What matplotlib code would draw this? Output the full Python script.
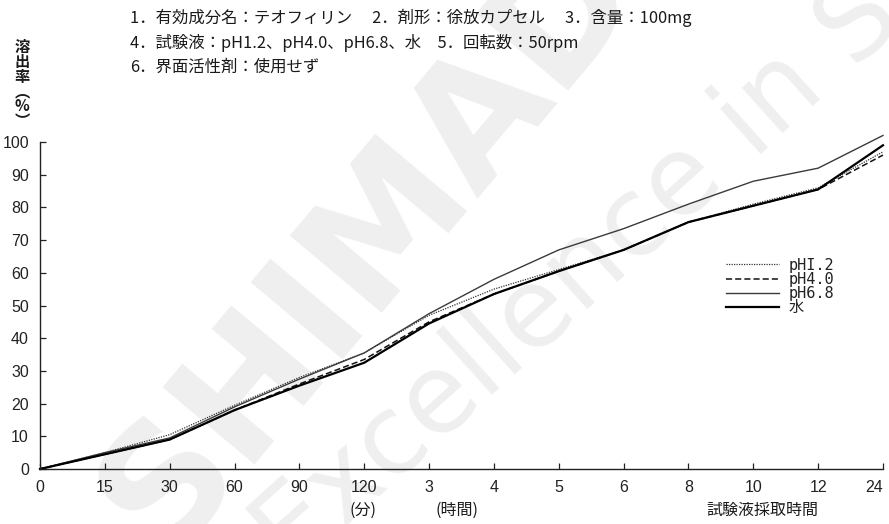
import numpy as np
import matplotlib
matplotlib.use("Agg")
import matplotlib.pyplot as plt
from matplotlib.lines import Line2D

# Sampling times (equally spaced categories: minutes, then hours)
time_labels = ["0", "15", "30", "60", "90", "120", "3", "4", "5", "6", "8", "10", "12", "24"]

# Dissolution rate (%) per test medium
ph12 = [0, 5.0, 10.5, 19.5, 28.0, 35.5, 47.0, 55.0, 61.0, 67.0, 75.5, 81.0, 86.0, 97.0]
ph40 = [0, 4.5, 9.0, 18.0, 26.0, 33.5, 45.0, 53.5, 60.5, 67.0, 75.5, 80.5, 85.5, 96.0]
ph68 = [0, 5.0, 9.5, 19.0, 27.5, 35.5, 47.5, 58.0, 67.0, 73.5, 81.0, 88.0, 92.0, 102.0]
water = [0, 4.5, 9.0, 18.0, 25.5, 32.5, 44.5, 53.5, 60.5, 67.0, 75.5, 80.5, 85.5, 99.0]

series_labels = ["pHI.2", "pH4.0", "pH6.8", "水"]
y_ticks = [0, 10, 20, 30, 40, 50, 60, 70, 80, 90, 100]

CJK = ["Noto Sans CJK JP", "DejaVu Sans"]
plt.rcParams["font.family"] = CJK

W, H = 889, 524
fig = plt.figure(figsize=(W / 100, H / 100), dpi=100)
fig.patch.set_facecolor("white")

# Faint background watermark, kept beneath everything else
fig.text(70 / W, 1 - 545 / H, "SHIMADZU", fontsize=118, fontweight="bold",
         color="#efefef", rotation=50, ha="left", va="baseline",
         family=["DejaVu Sans"], zorder=-5)
fig.text(235 / W, 1 - 570 / H, "Excellence in Science", fontsize=79,
         color="#efefef", rotation=42, ha="left", va="baseline",
         family=["DejaVu Sans"], zorder=-5)

x0, x1 = 40, 883
y0, y1 = 469, 142
ax = fig.add_axes([x0 / W, 1 - y0 / H, (x1 - x0) / W, (y0 - y1) / H])
ax.patch.set_alpha(0)
ax.set_zorder(2)

x = np.arange(len(time_labels))
ax.plot(x, ph12, color="#333333", lw=0.9, linestyle=(0, (1, 1)), clip_on=False)
ax.plot(x, ph40, color="#111111", lw=1.1, linestyle=(0, (4, 2)), clip_on=False)
ax.plot(x, ph68, color="#3a3a3a", lw=1.0, linestyle="-", clip_on=False)
ax.plot(x, water, color="#000000", lw=1.6, linestyle="-", clip_on=False)

ax.set_xlim(0, len(time_labels) - 1)
ax.set_ylim(0, 100)
ax.set_xticks(x)
ax.set_xticklabels(time_labels)
ax.set_yticks(y_ticks)
for s in ["top", "right"]:
    ax.spines[s].set_visible(False)
for s in ["left", "bottom"]:
    ax.spines[s].set_linewidth(1.0)
    ax.spines[s].set_color("#222222")
ax.tick_params(direction="in", length=4, width=0.9, colors="#222222",
               labelsize=11.5, pad=8)
for lbl in ax.get_xticklabels() + ax.get_yticklabels():
    lbl.set_family(["Liberation Sans"])
    lbl.set_color("#222222")
ax.get_xticklabels()[-1].set_horizontalalignment("right")

# Legend
handles = [
    Line2D([], [], color="#333333", lw=0.9, linestyle=(0, (1, 1))),
    Line2D([], [], color="#111111", lw=1.1, linestyle=(0, (4, 2))),
    Line2D([], [], color="#3a3a3a", lw=1.0),
    Line2D([], [], color="#000000", lw=1.6),
]
leg = fig.legend(handles, series_labels, loc="upper left",
                 bbox_to_anchor=(718 / W, 1 - 250 / H), frameon=False,
                 handlelength=3.5, handletextpad=0.6, labelspacing=-0.05,
                 borderpad=0, prop={"family": ["DejaVu Sans Mono", "Noto Sans CJK JP"], "size": 11})
for t in leg.get_texts():
    t.set_color("#222222")

# Header notes
notes = [
    "1．有効成分名：テオフィリン　 2．剤形：徐放カプセル　 3．含量：100mg",
    "4．試験液：pH1.2、pH4.0、pH6.8、水　5．回転数：50rpm",
    "6．界面活性剤：使用せず",
]
for i, line in enumerate(notes):
    fig.text(130 / W, 1 - (18 + 24.5 * i) / H, line, fontsize=11.8,
             color="#1a1a1a", ha="left", va="center", family=CJK)

# Vertical axis title
fig.text(22 / W, 1 - 84 / H, "溶\n出\n率\n︵\n%\n︶", fontsize=11, color="#1a1a1a",
         ha="center", va="center", linespacing=0.92, fontweight="bold", family=CJK)

# Axis unit notes
fig.text(363 / W, 1 - 510 / H, "(分)", fontsize=11.5, color="#1a1a1a",
         ha="center", va="center", family=CJK)
fig.text(457 / W, 1 - 510 / H, "(時間)", fontsize=11.5, color="#1a1a1a",
         ha="center", va="center", family=CJK)
fig.text(762 / W, 1 - 510 / H, "試験液採取時間", fontsize=11.5, color="#1a1a1a",
         ha="center", va="center", family=CJK)

fig.savefig("out.png", dpi=100, facecolor="white")
